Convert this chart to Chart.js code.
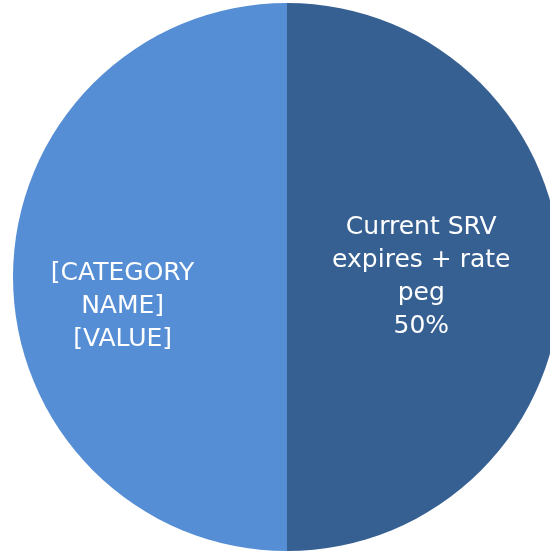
<!DOCTYPE html>
<html>
<head>
<meta charset="utf-8">
<script src="https://cdn.jsdelivr.net/npm/chart.js@4.4.1/dist/chart.umd.min.js"></script>
<style>
  html, body { margin: 0; padding: 0; background: #ffffff; overflow: hidden; width: 550px; height: 555px; }
  #wrap { position: absolute; left: 0; top: 0; width: 574px; height: 554px; }
</style>
</head>
<body>
<div id="wrap"><canvas id="c" width="574" height="554"></canvas></div>
<script>
const categories = ["Current SRV expires + rate peg", "[CATEGORY NAME]"];
const values = [50, 50];
const labelLines = [
  ["Current SRV", "expires + rate", "peg", "50%"],
  ["[CATEGORY", "NAME]", "[VALUE]"]
];
const colors = ["#366092", "#558ED5"];

const labelPlugin = {
  id: 'sliceLabels',
  afterDatasetsDraw(chart, args, opts) {
    const ctx = chart.ctx;
    const meta = chart.getDatasetMeta(0);
    meta.data.forEach((arc, i) => {
      const mid = (arc.startAngle + arc.endAngle) / 2;
      const r = arc.outerRadius * opts.radial[i];
      const x = arc.x + Math.cos(mid) * r;
      const y = arc.y + Math.sin(mid) * r + opts.dy[i];
      const lines = labelLines[i];
      ctx.save();
      ctx.fillStyle = '#ffffff';
      ctx.font = opts.font;
      ctx.textAlign = 'center';
      ctx.textBaseline = 'middle';
      const lh = opts.lineHeight;
      const y0 = y - (lines.length - 1) * lh / 2;
      lines.forEach((t, k) => ctx.fillText(t, x, y0 + k * lh));
      ctx.restore();
    });
  }
};

new Chart(document.getElementById('c'), {
  type: 'pie',
  data: {
    labels: categories,
    datasets: [{
      data: values,
      backgroundColor: colors,
      borderWidth: 0
    }]
  },
  options: {
    responsive: false,
    animation: false,
    layout: { padding: 3 },
    plugins: {
      legend: { display: false },
      tooltip: { enabled: false },
      sliceLabels: {
        radial: [0.49, 0.6],
        dy: [0, 29],
        font: '25px "DejaVu Sans"',
        lineHeight: 33
      }
    }
  },
  plugins: [labelPlugin]
});
</script>
</body>
</html>
